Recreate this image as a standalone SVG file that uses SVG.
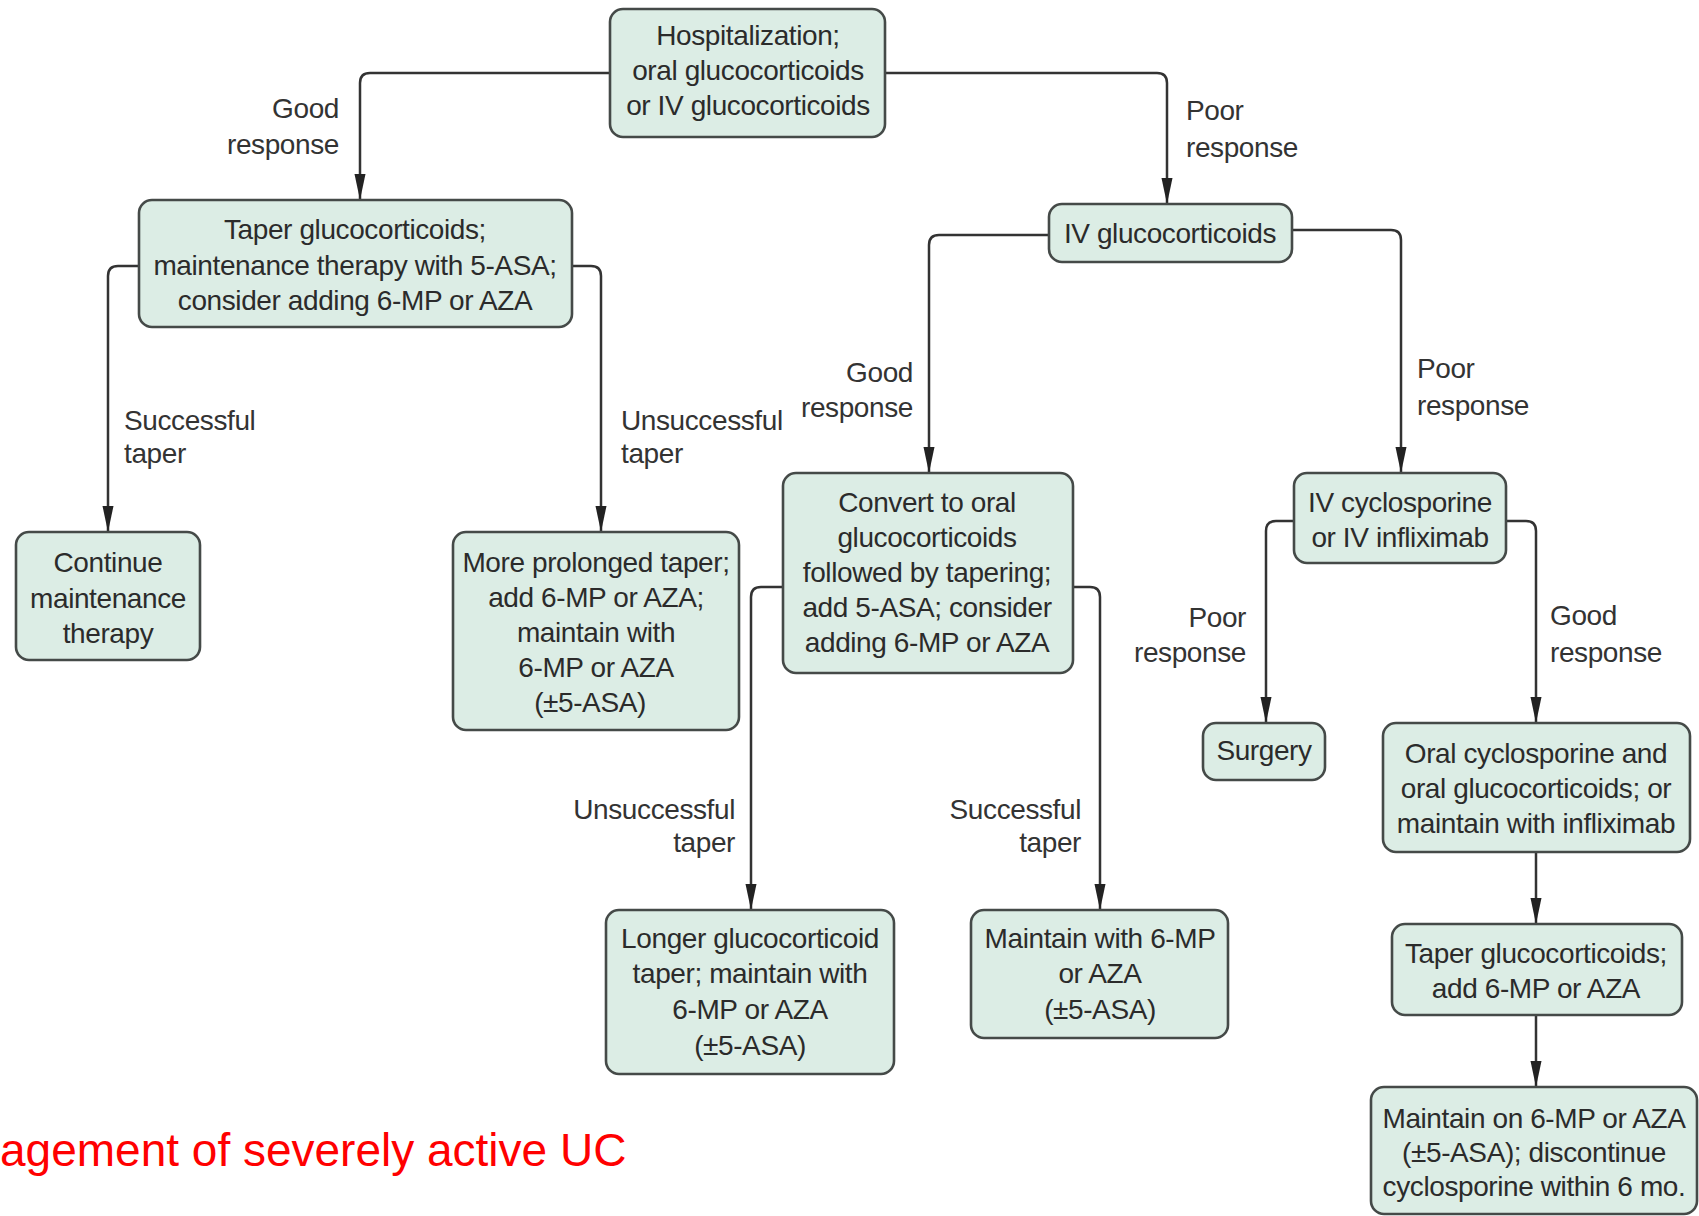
<svg xmlns="http://www.w3.org/2000/svg" width="1699" height="1216" viewBox="0 0 1699 1216">
<style>
.box{fill:#dcede5;stroke:#454a48;stroke-width:2.6}
.t{font-family:"Liberation Sans",Arial,sans-serif;font-size:28px;letter-spacing:-0.4px;fill:#2b2b2b;text-anchor:middle}
.l{font-family:"Liberation Sans",Arial,sans-serif;font-size:28px;letter-spacing:-0.4px;fill:#333}
.r{text-anchor:end}
.c{fill:none;stroke:#333;stroke-width:2.5}
</style>
<defs>
<marker id="ah" markerUnits="userSpaceOnUse" markerWidth="28" markerHeight="14" refX="26" refY="7" orient="auto">
<path d="M0,1.5 L26,7 L0,12.5 z" fill="#222"/>
</marker>
</defs>
<rect width="1699" height="1216" fill="#ffffff"/>
<g id="connectors">
<path class="c" marker-end="url(#ah)" d="M610,73 H370 Q360,73 360,83 V200"/>
<path class="c" marker-end="url(#ah)" d="M885,73 H1157 Q1167,73 1167,83 V204"/>
<path class="c" marker-end="url(#ah)" d="M139,266 H118 Q108,266 108,276 V532"/>
<path class="c" marker-end="url(#ah)" d="M572,266 H591 Q601,266 601,276 V532"/>
<path class="c" marker-end="url(#ah)" d="M1049,235 H939 Q929,235 929,245 V473"/>
<path class="c" marker-end="url(#ah)" d="M1292,230 H1391 Q1401,230 1401,240 V473"/>
<path class="c" marker-end="url(#ah)" d="M783,587 H761 Q751,587 751,597 V910"/>
<path class="c" marker-end="url(#ah)" d="M1073,587 H1090 Q1100,587 1100,597 V910"/>
<path class="c" marker-end="url(#ah)" d="M1294,521 H1276 Q1266,521 1266,531 V723"/>
<path class="c" marker-end="url(#ah)" d="M1506,521 H1526 Q1536,521 1536,531 V723"/>
<path class="c" marker-end="url(#ah)" d="M1536,852 V924"/>
<path class="c" marker-end="url(#ah)" d="M1536,1015 V1087"/>
<text class="l r" x="339" y="118">Good</text>
<text class="l r" x="339" y="154">response</text>
<text class="l" x="1186" y="120">Poor</text>
<text class="l" x="1186" y="157">response</text>
<text class="l" x="124" y="430">Successful</text>
<text class="l" x="124" y="463">taper</text>
<text class="l" x="621" y="430">Unsuccessful</text>
<text class="l" x="621" y="463">taper</text>
<text class="l r" x="913" y="382">Good</text>
<text class="l r" x="913" y="417">response</text>
<text class="l" x="1417" y="378">Poor</text>
<text class="l" x="1417" y="415">response</text>
<text class="l r" x="735" y="819">Unsuccessful</text>
<text class="l r" x="735" y="852">taper</text>
<text class="l r" x="1081" y="819">Successful</text>
<text class="l r" x="1081" y="852">taper</text>
<text class="l r" x="1246" y="627">Poor</text>
<text class="l r" x="1246" y="662">response</text>
<text class="l" x="1550" y="625">Good</text>
<text class="l" x="1550" y="662">response</text>
</g>
<g id="n1"><rect class="box" x="610" y="9" width="275" height="128" rx="13"/>
<text class="t" x="748" y="45">Hospitalization;</text>
<text class="t" x="748" y="80">oral glucocorticoids</text>
<text class="t" x="748" y="115">or IV glucocorticoids</text></g>
<g id="n2"><rect class="box" x="139" y="200" width="433" height="127" rx="13"/>
<text class="t" x="355" y="239">Taper glucocorticoids;</text>
<text class="t" x="355" y="275">maintenance therapy with 5-ASA;</text>
<text class="t" x="355" y="310">consider adding 6-MP or AZA</text></g>
<g id="n3"><rect class="box" x="1049" y="204" width="243" height="58" rx="13"/>
<text class="t" x="1170" y="243">IV glucocorticoids</text></g>
<g id="n4"><rect class="box" x="16" y="532" width="184" height="128" rx="13"/>
<text class="t" x="108" y="572">Continue</text>
<text class="t" x="108" y="608">maintenance</text>
<text class="t" x="108" y="643">therapy</text></g>
<g id="n5"><rect class="box" x="453" y="532" width="286" height="198" rx="13"/>
<text class="t" x="596" y="572">More prolonged taper;</text>
<text class="t" x="596" y="607">add 6-MP or AZA;</text>
<text class="t" x="596" y="642">maintain with</text>
<text class="t" x="596" y="677">6-MP or AZA</text>
<text class="t" x="590" y="712">(±5-ASA)</text></g>
<g id="n6"><rect class="box" x="783" y="473" width="290" height="200" rx="13"/>
<text class="t" x="927" y="512">Convert to oral</text>
<text class="t" x="927" y="547">glucocorticoids</text>
<text class="t" x="927" y="582">followed by tapering;</text>
<text class="t" x="927" y="617">add 5-ASA; consider</text>
<text class="t" x="927" y="652">adding 6-MP or AZA</text></g>
<g id="n7"><rect class="box" x="1294" y="473" width="212" height="90" rx="13"/>
<text class="t" x="1400" y="512">IV cyclosporine</text>
<text class="t" x="1400" y="547">or IV infliximab</text></g>
<g id="n8"><rect class="box" x="1203" y="723" width="122" height="57" rx="13"/>
<text class="t" x="1264" y="760">Surgery</text></g>
<g id="n9"><rect class="box" x="1383" y="723" width="307" height="129" rx="13"/>
<text class="t" x="1536" y="763">Oral cyclosporine and</text>
<text class="t" x="1536" y="798">oral glucocorticoids; or</text>
<text class="t" x="1536" y="833">maintain with infliximab</text></g>
<g id="n10"><rect class="box" x="606" y="910" width="288" height="164" rx="13"/>
<text class="t" x="750" y="948">Longer glucocorticoid</text>
<text class="t" x="750" y="983">taper; maintain with</text>
<text class="t" x="750" y="1019">6-MP or AZA</text>
<text class="t" x="750" y="1055">(±5-ASA)</text></g>
<g id="n11"><rect class="box" x="971" y="910" width="257" height="128" rx="13"/>
<text class="t" x="1100" y="948">Maintain with 6-MP</text>
<text class="t" x="1100" y="983">or AZA</text>
<text class="t" x="1100" y="1019">(±5-ASA)</text></g>
<g id="n12"><rect class="box" x="1392" y="924" width="290" height="91" rx="13"/>
<text class="t" x="1536" y="963">Taper glucocorticoids;</text>
<text class="t" x="1536" y="998">add 6-MP or AZA</text></g>
<g id="n13"><rect class="box" x="1371" y="1087" width="326" height="127" rx="13"/>
<text class="t" x="1534" y="1128">Maintain on 6-MP or AZA</text>
<text class="t" x="1534" y="1162">(±5-ASA); discontinue</text>
<text class="t" x="1534" y="1196">cyclosporine within 6 mo.</text></g>
<text x="0" y="1166" font-family="Liberation Sans, Arial, sans-serif" font-size="46" fill="#ff0000">agement of severely active UC</text>
</svg>
